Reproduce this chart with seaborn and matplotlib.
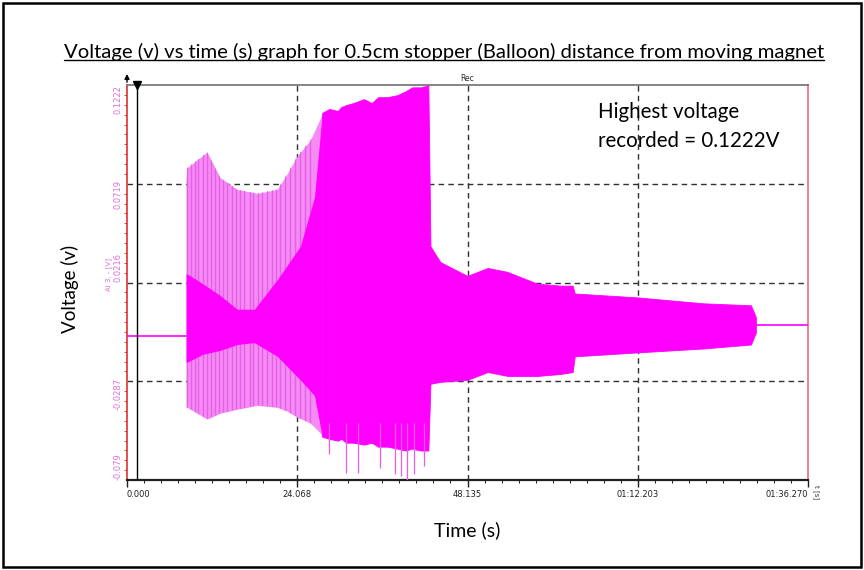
import numpy as np
import pandas as pd
import matplotlib
matplotlib.use("Agg")
import matplotlib.pyplot as plt
import seaborn as sns
from matplotlib.lines import Line2D
from matplotlib.patches import Rectangle

# ---------------- data ----------------
title = "Voltage (v) vs time (s) graph for 0.5cm stopper (Balloon) distance from moving magnet"
x_label = "Time (s)"
y_label = "Voltage (v)"
note = "Highest voltage\nrecorded = 0.1222V"

x_ticks = [0.0, 24.068, 48.135, 72.203, 96.270]
x_tick_labels = ["0.000", "24.068", "48.135", "01:12.203", "01:36.270"]
y_ticks = [-0.079, -0.0287, 0.0216, 0.0719, 0.1222]
y_tick_labels = ["-0.079", "-0.0287", "0.0216", "0.0719", "0.1222"]

# outer envelope of the oscillating signal (s, V)
env_t = [8.35, 8.50, 11.33, 13.17, 15.57, 18.41, 21.24, 22.65, 24.07, 25.91, 27.30,
         27.60, 28.6, 29.8, 30.3, 31.0, 32.00, 33.5, 34.6, 35.5, 36.80, 38.2, 39.4,
         40.3, 41.50, 42.60, 42.90, 44.30, 48.10, 51.00, 53.80,
         58.00, 61.30, 63.00, 63.30, 72.20, 81.50, 88.20, 88.90]
env_upper = [0.074, 0.080, 0.088, 0.075, 0.069, 0.067, 0.069, 0.077, 0.086, 0.094, 0.105,
             0.108, 0.110, 0.109, 0.111, 0.112, 0.113, 0.115, 0.113, 0.116, 0.116, 0.117, 0.119,
             0.121, 0.121, 0.122, 0.040, 0.032, 0.025, 0.029, 0.027,
             0.021, 0.020, 0.020, 0.016, 0.014, 0.011, 0.010, 0.004]
env_lower = [-0.042, -0.042, -0.048, -0.045, -0.043, -0.041, -0.042, -0.044, -0.047, -0.050, -0.055,
             -0.057, -0.058, -0.059, -0.058, -0.060, -0.060, -0.061, -0.060, -0.062, -0.062, -0.063, -0.064,
             -0.063, -0.064, -0.064, -0.030, -0.029, -0.028, -0.024, -0.026,
             -0.026, -0.025, -0.024, -0.016, -0.014, -0.012, -0.010, -0.004]

# saturated core during the first phase
core_t = [8.35, 8.50, 10.70, 13.17, 15.57, 18.00, 21.24, 24.50, 26.50, 27.60]
core_upper = [0.026, 0.026, 0.021, 0.015, 0.008, 0.008, 0.023, 0.040, 0.065, 0.108]
core_lower = [-0.019, -0.019, -0.015, -0.013, -0.010, -0.009, -0.016, -0.028, -0.036, -0.057]

# individual swings visible during the first phase
swing_t = [8.45, 9.02, 9.63, 10.10, 10.81, 11.28, 11.85, 12.46, 13.07, 13.64, 14.11,
           14.82, 15.43, 16.00, 16.56, 17.32, 17.88, 18.45, 19.07, 19.77, 20.48, 21.09,
           21.66, 22.37, 23.08, 23.78, 24.49, 25.20, 25.91]

# isolated downward spikes during the strongest phase
spike_t = [28.5, 31.0, 32.6, 35.8, 37.9, 38.7, 39.6, 40.6, 42.0]
spike_v = [-0.066, -0.0755, -0.0755, -0.073, -0.076, -0.077, -0.079, -0.076, -0.072]

# flat baseline before and after the signal
pre_t = [0.0, 8.35]
pre_v = [-0.0058, -0.0058]
post_t = [88.9, 96.27]
post_v = [0.0, 0.0]

cursor_t = 1.42
split_t = 27.60

# ---------------- style ----------------
sns.set_style("white")
plt.rcParams['font.family'] = ['Lato', 'DejaVu Sans']

MAG = "#ff00ff"
LIGHT = "#f48cf4"
SPIKE = "#e85ee8"

fig = plt.figure(figsize=(8.64, 5.70), dpi=100)
ax = fig.add_axes([127/864, 1 - 480/570, (808 - 127)/864, (480 - 85)/570])

env = pd.DataFrame({"t": env_t, "up": env_upper, "lo": env_lower})
core = pd.DataFrame({"t": core_t, "up": core_upper, "lo": core_lower})

# grid
for xt in x_ticks[1:-1]:
    ax.axvline(xt, color="#303030", lw=1.0, ls=(0, (4, 3)), zorder=1)
for yt in y_ticks[1:-1]:
    ax.axhline(yt, color="#303030", lw=1.0, ls=(0, (4, 3)), zorder=1)

# signal
first = env[env.t <= split_t]
rest = env[env.t >= split_t]
light = ax.fill_between(first.t, first.lo, first.up, color=LIGHT, lw=0, zorder=2)
swings = ax.vlines(swing_t, y_ticks[0], y_ticks[-1], color=SPIKE, lw=1.0, zorder=2.5)
swings.set_clip_path(light.get_paths()[0], transform=ax.transData)
ax.fill_between(core.t, core.lo, core.up, color=MAG, lw=0, zorder=3)
ax.fill_between(rest.t, rest.lo, rest.up, color=MAG, lw=0.6, edgecolor=MAG, zorder=3)
ax.vlines(spike_t, spike_v, [-0.05] * len(spike_t), color=SPIKE, lw=0.9, zorder=3)
sns.lineplot(x=pre_t, y=pre_v, ax=ax, color=MAG, lw=1.2, zorder=3)
sns.lineplot(x=post_t, y=post_v, ax=ax, color=MAG, lw=1.2, zorder=3)

# cursor
ax.axvline(cursor_t, color="black", lw=1.0, zorder=4)
ax.plot([cursor_t], [y_ticks[-1]], marker="v", color="black", ms=6, clip_on=False, zorder=5)

ax.set_xlim(x_ticks[0], x_ticks[-1])
ax.set_ylim(y_ticks[0], y_ticks[-1])
ax.set_xticks(x_ticks)
ax.set_xticklabels(x_tick_labels)
ax.set_yticks(y_ticks)
ax.set_yticklabels(y_tick_labels, rotation=90)
ax.set_xticks(np.linspace(x_ticks[0], x_ticks[-1], 41), minor=True)
ax.set_yticks(np.linspace(y_ticks[0], y_ticks[-1], 41), minor=True)

ax.tick_params(axis="x", which="major", labelsize=6, colors="#202020", length=5, width=1, direction="out", pad=2, labelfontfamily="DejaVu Sans")
ax.tick_params(axis="x", which="minor", length=2.5, width=0.7, color="#202020", direction="out")
ax.tick_params(axis="y", which="major", labelsize=6, colors="#e06ee0", length=0, pad=3, labelfontfamily="DejaVu Sans")
ax.tick_params(axis="y", which="minor", length=2, width=0.6, color="#e03030", direction="out")
ax.tick_params(bottom=True, left=True, which="both")

labs = ax.get_xticklabels()
labs[0].set_ha("left")
labs[-1].set_ha("right")
ylabs = ax.get_yticklabels()
ylabs[-1].set_va("top")
ylabs[0].set_va("bottom")
ylabs[2].set_va("bottom")

ax.spines["left"].set_color("#e03030")
ax.spines["left"].set_linewidth(1.2)
ax.spines["right"].set_color("#f08090")
ax.spines["right"].set_linewidth(1.4)
ax.spines["top"].set_color("#707070")
ax.spines["top"].set_linewidth(1.2)
ax.spines["bottom"].set_color("#202020")
ax.spines["bottom"].set_linewidth(1.6)
for s in ax.spines.values():
    s.set_visible(True)

# small decorations of the recorder software
ax.annotate("", xy=(0, 1.035), xytext=(0, 1.0), xycoords="axes fraction",
            arrowprops=dict(arrowstyle="-|>", color="black", lw=1, mutation_scale=7))
ax.text(0.5, 1.004, "Rec", transform=ax.transAxes, ha="center", va="bottom",
        fontsize=5.5, family="DejaVu Sans", color="#303030")
ax.text(1.012, -0.03, "t [s]", transform=ax.transAxes, ha="center", va="center",
        rotation=-90, fontsize=5, family="DejaVu Sans", color="#303030")
ax.text(-0.027, 0.52, "AI 3, - [V]", transform=ax.transAxes, ha="center", va="center",
        rotation=90, fontsize=5, family="DejaVu Sans", color="#e06ee0")

# figure texts
t_obj = fig.text(444/864, 1 - 52/570, title, ha="center", va="center", fontsize=14.6, color="black")
fig.text(70/864, 1 - 289/570, y_label, ha="center", va="center", rotation=90, fontsize=13.5, color="black")
fig.text(467/864, 1 - 530/570, x_label, ha="center", va="center", fontsize=14, color="black")
fig.text(598/864, 1 - 102/570, note, ha="left", va="top", fontsize=14.8, linespacing=1.55, color="black")

# outer frame
fig.add_artist(Rectangle((3/864, 3/570), 1 - 6/864, 1 - 6/570, transform=fig.transFigure,
                         fill=False, edgecolor="black", lw=1.8))

# underline the title
fig.canvas.draw()
bb = t_obj.get_window_extent().transformed(fig.transFigure.inverted())
fig.add_artist(Line2D([bb.x0, bb.x1], [bb.y0 + 0.002, bb.y0 + 0.002], transform=fig.transFigure,
                      color="black", lw=1.0))

fig.savefig("out.png", dpi=100)
